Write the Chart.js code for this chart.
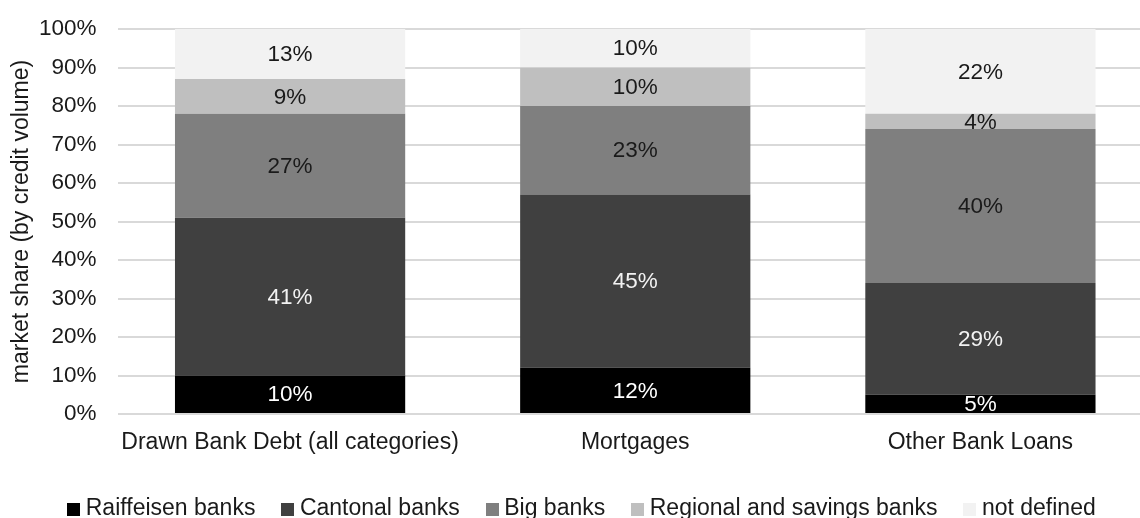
<!DOCTYPE html>
<html>
<head>
<meta charset="utf-8">
<title>Market share by bank group</title>
<script src="https://cdn.jsdelivr.net/npm/chart.js@4.4.1/dist/chart.umd.min.js"></script>
<style>
    html, body { margin: 0; padding: 0; background: #fff; overflow: hidden; }
    #wrap { position: absolute; left: 0; top: 0; width: 1153px; height: 518px; }
</style>
</head>
<body>
<div id="wrap"><canvas id="shareChart" width="1153" height="518"></canvas></div>
<script>
const categories = ['Drawn Bank Debt (all categories)', 'Mortgages', 'Other Bank Loans'];
const seriesNames = ['Raiffeisen banks', 'Cantonal banks', 'Big banks', 'Regional and savings banks', 'not defined'];
const raiffeisen = [10, 12, 5];
const cantonal = [41, 45, 29];
const bigBanks = [27, 23, 40];
const regional = [9, 10, 4];
const notDefined = [13, 10, 22];
const yTicks = [0, 10, 20, 30, 40, 50, 60, 70, 80, 90, 100];

const fills = ['#000000', '#404040', '#7f7f7f', '#bfbfbf', '#f2f2f2'];
const labelColors = ['#ffffff', '#f2f2f2', '#1a1a1a', '#1a1a1a', '#1a1a1a'];
const FONT = '"Liberation Sans", Arial, sans-serif';
const TEXT = '#1a1a1a';

// small square swatches for the legend, drawn as image point styles
function swatch(color) {
    const c = document.createElement('canvas');
    c.width = 13;
    c.height = 13;
    const g = c.getContext('2d');
    g.fillStyle = color;
    g.fillRect(0, 0, 13, 13);
    return c;
}
const swatches = fills.map(swatch);

// writes each segment's share in the middle of its bar piece
const segmentLabels = {
    id: 'segmentLabels',
    afterDatasetsDraw(chart) {
        const ctx = chart.ctx;
        ctx.save();
        ctx.font = '22.5px ' + FONT;
        ctx.textAlign = 'center';
        ctx.textBaseline = 'middle';
        chart.data.datasets.forEach((ds, i) => {
            chart.getDatasetMeta(i).data.forEach((bar, j) => {
                const p = bar.getProps(['x', 'y', 'base'], true);
                ctx.fillStyle = labelColors[i];
                ctx.fillText(ds.data[j] + '%', p.x, (p.y + p.base) / 2 + 1);
            });
        });
        ctx.restore();
    }
};

// nudge the legend row sideways a little
const legendShift = {
    id: 'legendShift',
    afterLayout(chart) {
        const lg = chart.legend;
        if (lg) {
            lg.left += 8;
            lg.right += 8;
        }
    }
};

const seriesData = [raiffeisen, cantonal, bigBanks, regional, notDefined];

new Chart(document.getElementById('shareChart'), {
    type: 'bar',
    data: {
        labels: categories,
        datasets: seriesNames.map((name, i) => ({
            label: name,
            data: seriesData[i],
            backgroundColor: fills[i],
            borderWidth: 0,
            categoryPercentage: 1,
            barPercentage: 0.667
        }))
    },
    options: {
        responsive: false,
        animation: false,
        layout: { padding: { left: 0, right: 0, top: 29, bottom: -12.5 } },
        plugins: {
            tooltip: { enabled: false },
            legend: {
                position: 'bottom',
                labels: {
                    color: TEXT,
                    font: { family: FONT, size: 23 },
                    usePointStyle: true,
                    boxWidth: 1,
                    boxHeight: 13,
                    padding: 32,
                    generateLabels(chart) {
                        const items = Chart.defaults.plugins.legend.labels.generateLabels(chart);
                        items.forEach((it, i) => { it.pointStyle = swatches[i]; });
                        return items;
                    }
                }
            }
        },
        scales: {
            x: {
                stacked: true,
                grid: { display: false },
                border: { display: false },
                ticks: {
                    color: TEXT,
                    font: { family: FONT, size: 23 },
                    padding: 6.5,
                    maxRotation: 0
                },
                afterFit(scale) { scale.height = 51.5; }
            },
            y: {
                stacked: true,
                min: 0,
                max: 100,
                afterBuildTicks(scale) { scale.ticks = yTicks.map(v => ({ value: v })); },
                grid: {
                    color: '#d9d9d9',
                    lineWidth: 2,
                    drawTicks: true,
                    tickLength: 13,
                    tickColor: 'rgba(0,0,0,0)'
                },
                border: { display: false },
                ticks: {
                    color: TEXT,
                    font: { family: FONT, size: 22.5 },
                    padding: 8,
                    callback: v => v + '%'
                },
                title: {
                    display: true,
                    text: 'market share (by credit volume)',
                    color: TEXT,
                    font: { family: FONT, size: 23 },
                    padding: { top: 8, bottom: 0 }
                },
                afterFit(scale) { scale.width = 117.5; }
            }
        }
    },
    plugins: [segmentLabels, legendShift]
});
</script>
</body>
</html>
